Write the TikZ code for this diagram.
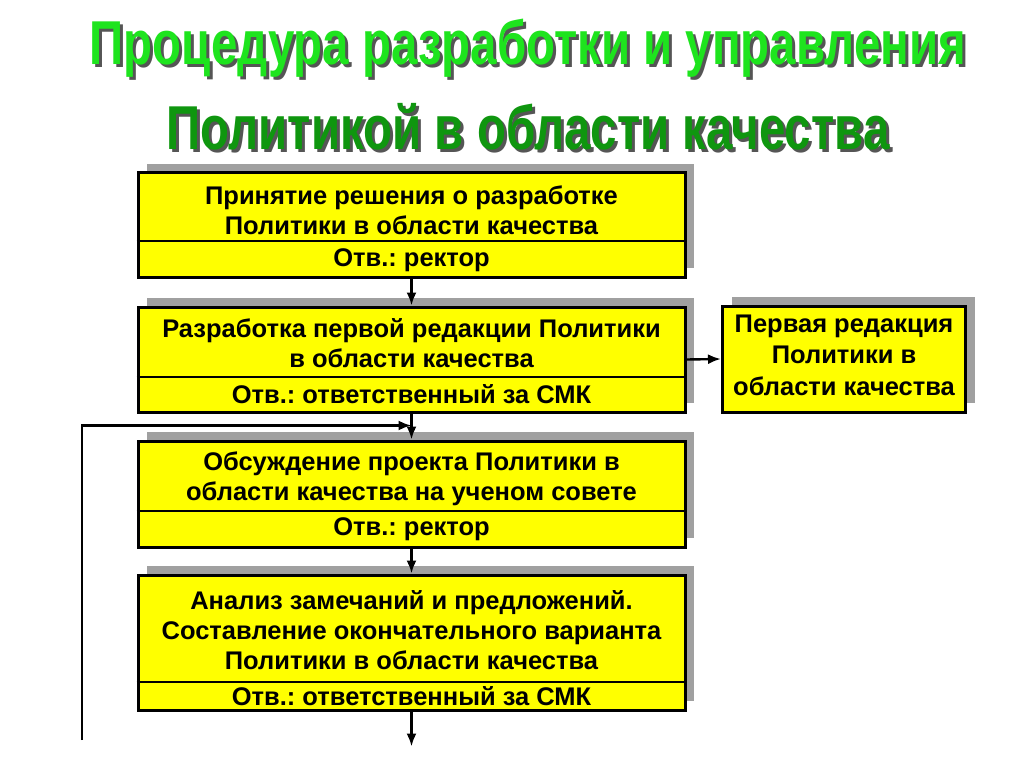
\documentclass[tikz,border=0pt]{standalone}
\usepackage{fontspec}
\setmainfont{Liberation Sans}
\newfontfamily\titlefont[FakeStretch=0.765]{Liberation Sans}
\usetikzlibrary{arrows.meta,shadows,calc}
\definecolor{boxyellow}{RGB}{255,255,0}
\definecolor{shadowgray}{RGB}{160,160,160}
\definecolor{titleA}{RGB}{30,228,30}
\definecolor{titleB}{RGB}{15,150,15}
\definecolor{titleshadow}{RGB}{85,85,85}
\newcommand{\shadowtext}[2]{\makebox[0pt][l]{\hspace{3pt}\raisebox{-3pt}{\textcolor{titleshadow}{#2}}}\textcolor{#1}{#2}}
\frenchspacing
\tikzset{
  stepbox/.style={draw=black, line width=3pt, fill=boxyellow, rectangle, inner sep=0pt,
    drop shadow={shadow xshift=9pt, shadow yshift=9pt, fill=shadowgray, opacity=1}},
  boxtext/.style={font=\fontsize{25.5}{30}\selectfont\bfseries, align=center, inner sep=0pt},
  divider/.style={line width=1.5pt, black},
  arr/.style={line width=2.4pt, -{Latex[length=13pt,width=10pt]}},
  ttl/.style={font=\titlefont\fontsize{62}{62}\selectfont\bfseries, inner sep=0pt},
}
\begin{document}
\begin{tikzpicture}[x=1pt,y=-1pt]
\useasboundingbox (0,0) rectangle (1024,767);
% title
\node[ttl] (t1) at (528,50) {\shadowtext{titleA}{Процедура разработки и управления}};
\node[ttl] (t2) at (528,128) {\shadowtext{titleB}{Политикой в области качества}};
% boxes
\node[stepbox, minimum width=547, minimum height=104] (b1) at (411.5,225) {};
\node[stepbox, minimum width=547, minimum height=105] (b2) at (411.5,359.5) {};
\node[stepbox, minimum width=547, minimum height=106] (b3) at (411.5,494) {};
\node[stepbox, minimum width=547, minimum height=135] (b4) at (411.5,642.5) {};
\node[stepbox, minimum width=243, minimum height=106] (r) at (844,359) {};
% dividers
\draw[divider] (b1.west |- 0,241) -- (b1.east |- 0,241);
\draw[divider] (b2.west |- 0,377) -- (b2.east |- 0,377);
\draw[divider] (b3.west |- 0,511) -- (b3.east |- 0,511);
\draw[divider] (b4.west |- 0,682) -- (b4.east |- 0,682);
% texts
\node[boxtext] (b1t) at (411.5,210) {Принятие решения о разработке\\Политики в области качества};
\node[boxtext] (b1r) at (411.5,260) {Отв.: ректор};
\node[boxtext] (b2t) at (411.5,343) {Разработка первой редакции Политики\\в области качества};
\node[boxtext] (b2r) at (411.5,394) {Отв.: ответственный за СМК};
\node[boxtext] (b3t) at (411.5,479) {Обсуждение проекта Политики в\\области качества на ученом совете};
\node[boxtext] (b3r) at (411.5,529) {Отв.: ректор};
\node[boxtext] (b4t) at (411.5,630) {Анализ замечаний и предложений.\\Составление окончательного варианта\\Политики в области качества};
\node[boxtext] (b4r) at (411.5,696) {Отв.: ответственный за СМК};
\node[boxtext, font=\fontsize{25.5}{31.5}\selectfont\bfseries] (rt) at (844,355) {Первая редакция\\Политики в\\области качества};
% connectors
\coordinate (fbstart) at (82,740);
\coordinate (fbjoin) at ($(b2.south)+(0,12)$);
\coordinate (endpt) at ($(b4.south)+(0,35)$);
\draw[arr] (b1.south) -- (b2.north);
\draw[arr] (b2.south) -- (b3.north);
\draw[arr] (b3.south) -- (b4.north);
\draw[arr] (b4.south) -- (endpt);
\draw[arr] (b2.east) -- (r.west);
\draw[arr] (fbstart) |- (fbjoin);
\end{tikzpicture}
\end{document}
